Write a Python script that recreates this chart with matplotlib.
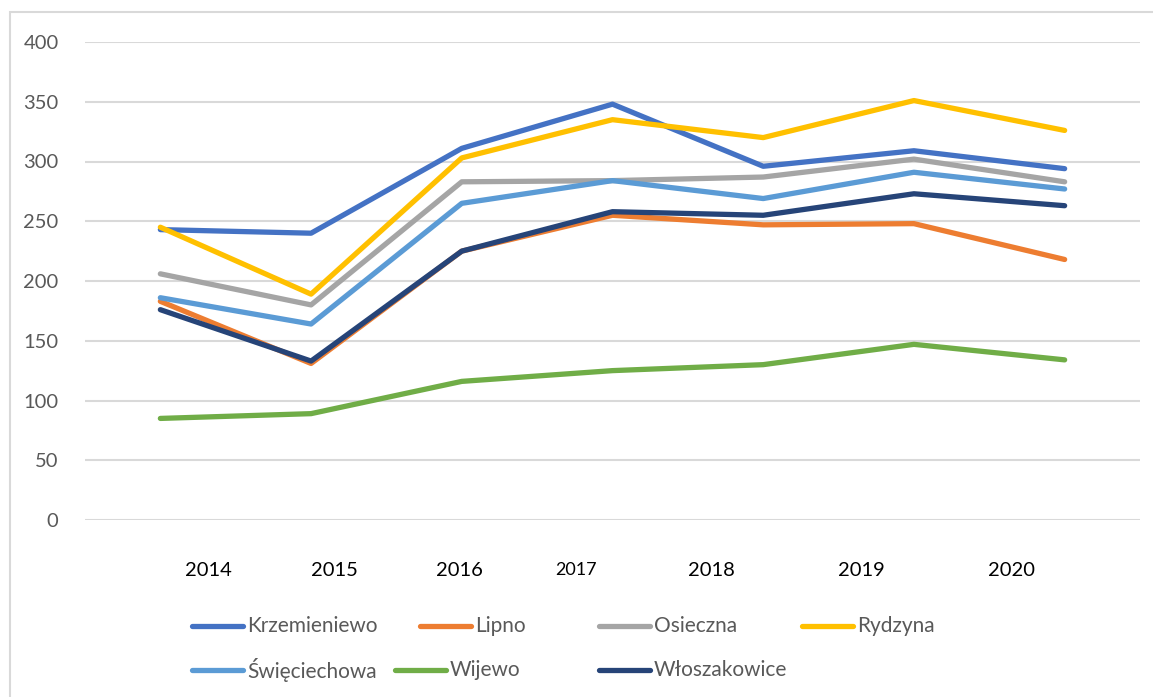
import matplotlib
matplotlib.use("Agg")
import matplotlib.pyplot as plt
from matplotlib.lines import Line2D
from matplotlib.patches import Rectangle

# dane z wykresu
lata = ["2014", "2015", "2016", "2017", "2018", "2019", "2020"]
krzemieniewo = [243, 240, 311, 348, 296, 309, 294]
lipno = [183, 131, 225, 255, 247, 248, 218]
osieczna = [206, 180, 283, 284, 287, 302, 283]
rydzyna = [245, 189, 303, 335, 320, 351, 326]
swieciechowa = [186, 164, 265, 284, 269, 291, 277]
wijewo = [85, 89, 116, 125, 130, 147, 134]
wloszakowice = [176, 133, 225, 258, 255, 273, 263]

nazwy = ["Krzemieniewo", "Lipno", "Osieczna", "Rydzyna", "Święciechowa", "Wijewo", "Włoszakowice"]
serie = [krzemieniewo, lipno, osieczna, rydzyna, swieciechowa, wijewo, wloszakowice]
kolory = ["#4472C4", "#ED7D31", "#A5A5A5", "#FFC000", "#5B9BD5", "#70AD47", "#264478"]

plt.rcParams["font.family"] = ["Lato", "DejaVu Sans"]

W, H = 1153, 697
fig = plt.figure(figsize=(W / 100, H / 100), dpi=100)

def fx(x):
    return x / W

def fy(y):
    return 1 - y / H

# ramka wykresu (jak w Excelu), prawa i dolna krawedz poza obrazkiem
fig.add_artist(Rectangle((fx(10), -0.2), 1.2, fy(12) + 0.2, transform=fig.transFigure,
                         fill=False, edgecolor="#D9D9D9", linewidth=1.5))

ax = fig.add_axes([fx(85), fy(520), fx(1140) - fx(85), fy(42) - fy(520)])
for i, (nazwa, s) in enumerate(zip(nazwy, serie)):
    ax.plot(range(len(lata)), s, color=kolory[i], linewidth=3.8,
            solid_capstyle="round", solid_joinstyle="round", label=nazwa, zorder=3 + i)

ax.set_xlim(-0.5, len(lata) - 0.5)
ax.set_ylim(0, 400)
ax.set_yticks(range(0, 401, 50))
ax.set_xticks([])
ax.grid(axis="y", color="#D9D9D9", linewidth=1.5)
ax.set_axisbelow(True)
for sp in ax.spines.values():
    sp.set_visible(False)
ax.tick_params(axis="y", length=0, pad=19, labelsize=14.5, labelcolor="#595959")

# etykiety lat (przesuniete recznie jak w oryginale)
pozycje_lat = [208, 334, 459, 576, 711, 861, 1012]
rozmiary_lat = [14.5, 14.5, 14.5, 13, 14.5, 14.5, 14.5]
for rok, x, r in zip(lata, pozycje_lat, rozmiary_lat):
    fig.text(fx(x), fy(570), rok, ha="center", va="center", fontsize=r, color="black")

# legenda rysowana recznie
leg_x = [190, 418, 597, 800, 190, 393, 597]
leg_y = [626, 626, 626, 626, 670, 670, 670]
for i, nazwa in enumerate(nazwy):
    x0, y0 = leg_x[i], leg_y[i]
    fig.add_artist(Line2D([fx(x0 + 2), fx(x0 + 53)], [fy(y0), fy(y0)], transform=fig.transFigure,
                          color=kolory[i], linewidth=3.8, solid_capstyle="round"))
    fig.text(fx(x0 + 57), fy(y0), nazwa, ha="left", va="center", fontsize=15, color="#595959")

fig.savefig("out.png", dpi=100)
